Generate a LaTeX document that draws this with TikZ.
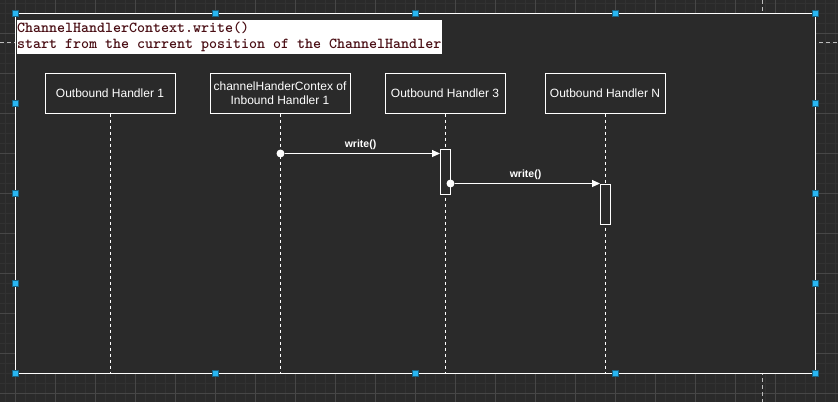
\documentclass[tikz,border=0pt]{standalone}
\usepackage{fontspec}
\setmainfont{Liberation Sans}
\usetikzlibrary{arrows.meta,positioning}
\definecolor{canvas}{HTML}{2A2A2A}
\definecolor{gridminor}{HTML}{323232}
\definecolor{gridmajor}{HTML}{474747}
\definecolor{guide}{HTML}{BDBDBD}
\definecolor{handle}{HTML}{29B6F2}
\definecolor{codetext}{HTML}{4A0E14}
\begin{document}
\begin{tikzpicture}[x=1pt, y=-1pt,
    actor/.style={draw=white, line width=1pt, minimum width=#1, minimum height=40pt,
        inner sep=0pt, text=white, align=center, font=\fontsize{12}{14}\selectfont},
    lifeline/.style={white, line width=1pt, dash pattern=on 3pt off 3pt},
    activation/.style={draw=white, fill=canvas, line width=1pt, minimum width=10pt, inner sep=0pt},
    dot/.style={circle, fill=white, minimum size=8pt, inner sep=0pt},
    msg/.style={white, line width=1pt, -{Triangle[length=8pt, width=7pt]}},
    msglabel/.style={text=white, inner sep=0pt, font=\bfseries\fontsize{10.5}{12}\selectfont},
    grip/.style={fill=handle, draw=handle!55!black, line width=0.4pt, minimum size=6pt, inner sep=0pt}]
    \useasboundingbox (0,0) rectangle (838,402);

    % Grid
    \fill[canvas] (0,0) rectangle (838,402);
    \foreach \x in {5,15,...,835}
        \draw[gridminor, line width=1pt] (\x,0) -- (\x,402);
    \foreach \y in {3,13,...,393}
        \draw[gridminor, line width=1pt] (0,\y) -- (838,\y);
    \foreach \x in {15,55,...,815}
        \draw[gridmajor, line width=1pt] (\x,0) -- (\x,402);
    \foreach \y in {33,73,...,393}
        \draw[gridmajor, line width=1pt] (0,\y) -- (838,\y);

    % Page break guides
    \draw[guide, line width=1pt, dash pattern=on 4pt off 3pt] (762,0) -- (762,402);
    \draw[guide, line width=1pt, dash pattern=on 4pt off 3pt] (0,42.5) -- (838,42.5);

    % Frame
    \node[draw=white, fill=canvas, line width=1pt, minimum width=800pt, minimum height=360pt,
        inner sep=0pt] (frame) at (415,193.5) {};

    % Note
    \node[fill=white, anchor=north west, inner xsep=0.5pt, inner ysep=2pt, align=left, text=codetext,
        font=\ttfamily\bfseries\fontsize{15.24}{16}\selectfont] (note) at (16.5,20)
        {ChannelHandlerContext.write()\\start from the current position of the ChannelHandler};

    % Participants
    \node[actor=130pt] (oh1) at (110,93) {Outbound Handler 1};
    \node[actor=140pt] (ctx) at (280,93) {channelHanderContex of\\Inbound Handler 1};
    \node[actor=120pt] (oh3) at (445,93) {Outbound Handler 3};
    \node[actor=120pt] (ohn) at (605,93) {Outbound Handler N};

    % Lifelines
    \foreach \n in {oh1,ctx,oh3,ohn}
        \draw[lifeline] (\n.south) -- (\n.south |- frame.south);

    % Activations
    \node[activation, minimum height=45pt, anchor=north] (act3) at (445.5,148.5) {};
    \node[activation, minimum height=40pt, anchor=north] (actn) at (605.5,183.5) {};

    % Messages
    \node[dot] (src1) at (280.5,153.5) {};
    \draw[msg] (src1) -- (src1 -| act3.west);
    \node[msglabel] (lbl1) at (360.5,144.5) {write()};

    \node[dot] (src2) at (450.5,183.5) {};
    \draw[msg] (src2) -- (src2 -| actn.west);
    \node[msglabel] (lbl2) at (525.5,174.5) {write()};

    % Selection handles
    \foreach \x in {15,215,415,615,815} {
        \node[grip] at (\x,13.5) {};
        \node[grip] at (\x,373.5) {};
    }
    \foreach \y in {103.5,193.5,283.5} {
        \node[grip] at (15,\y) {};
        \node[grip] at (815,\y) {};
    }
\end{tikzpicture}
\end{document}
